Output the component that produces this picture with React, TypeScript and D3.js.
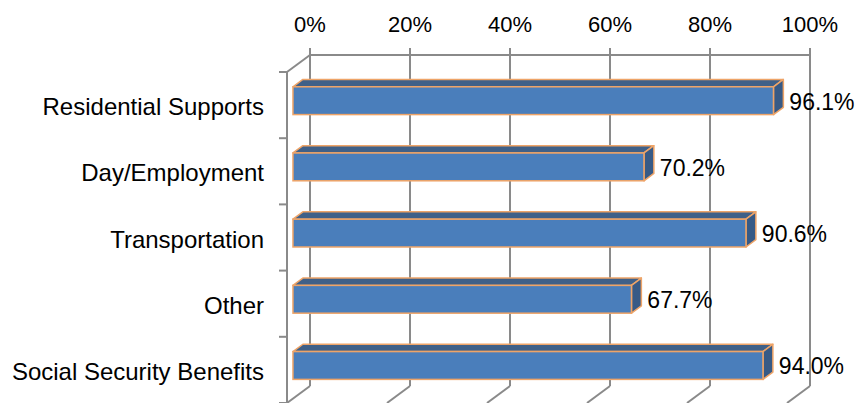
import React from "react";
import * as d3 from "d3";

const categories = [
  "Residential Supports",
  "Day/Employment",
  "Transportation",
  "Other",
  "Social Security Benefits",
];
const values = [0.961, 0.702, 0.906, 0.677, 0.94];
const ticks = [0, 0.2, 0.4, 0.6, 0.8, 1.0];

const W = 860;
const H = 403;
const FONT = "'Liberation Sans', Arial, sans-serif";

export default function App() {
  // front plane
  const x = d3.scaleLinear().domain([0, 1]).range([287, 787]);
  const y = d3.scaleBand<string>().domain(categories).range([72, 403]).padding(0);
  const depth = { dx: 23, dy: -17 };
  const barFront = 0.26;
  const barBack = 0.69;
  const barFrac = 0.42;
  const grid = "#8a8a8a";
  const front = "#4a7ebb";
  const top = "#3f6088";
  const side = "#375a86";
  const edge = "#eea468";

  const y0 = y.range()[0];
  const y1 = y.range()[1];
  const bw = y.bandwidth();

  return (
    <svg width={W} height={H} style={{ position: "absolute", left: 0, top: 0 }}>
      <rect x={0} y={0} width={W} height={H} fill="#fff" />
      {/* back wall gridlines */}
      {ticks.map((t) => (
        <line
          key={"g" + t}
          x1={x(t) + depth.dx}
          x2={x(t) + depth.dx}
          y1={y0 + depth.dy}
          y2={y1 + depth.dy}
          stroke={grid}
          strokeWidth={2}
        />
      ))}
      {/* floor diagonals */}
      {ticks.map((t) => (
        <line
          key={"f" + t}
          x1={x(t) + depth.dx}
          x2={x(t)}
          y1={y1 + depth.dy}
          y2={y1}
          stroke={grid}
          strokeWidth={2}
        />
      ))}
      {/* top axis (back) */}
      <line
        x1={x(0) + depth.dx}
        x2={x(1) + depth.dx}
        y1={y0 + depth.dy}
        y2={y0 + depth.dy}
        stroke={grid}
        strokeWidth={2}
      />
      {ticks.map((t) => (
        <line
          key={"tt" + t}
          x1={x(t) + depth.dx}
          x2={x(t) + depth.dx}
          y1={y0 + depth.dy}
          y2={y0 + depth.dy - 7}
          stroke={grid}
          strokeWidth={2}
        />
      ))}
      {ticks.map((t) => (
        <text
          key={"tl" + t}
          x={x(t) + depth.dx}
          y={32}
          textAnchor="middle"
          fontFamily={FONT}
          fontSize={22}
          fill="#000"
        >
          {d3.format(".0%")(t)}
        </text>
      ))}
      {/* left wall top diagonal */}
      <line x1={x(0)} y1={y0} x2={x(0) + depth.dx} y2={y0 + depth.dy} stroke={grid} strokeWidth={2} />
      {/* left axis */}
      <line x1={x(0)} y1={y0} x2={x(0)} y2={y1} stroke={grid} strokeWidth={2} />
      {categories.map((c) => (
        <line
          key={"lt" + c}
          x1={x(0) - 8}
          x2={x(0)}
          y1={y(c)!}
          y2={y(c)!}
          stroke={grid}
          strokeWidth={2}
        />
      ))}
      <line x1={x(0) - 8} x2={x(0)} y1={y1} y2={y1} stroke={grid} strokeWidth={2} />
      {/* category labels */}
      {categories.map((c) => (
        <text
          key={"cl" + c}
          x={264}
          y={y(c)! + bw / 2 + 10}
          textAnchor="end"
          fontFamily={FONT}
          fontSize={24}
          fill="#000"
        >
          {c}
        </text>
      ))}
      {/* bars */}
      {categories.map((c, i) => {
        const v = values[i];
        const fdx = depth.dx * barFront;
        const fdy = depth.dy * barFront;
        const bdx = depth.dx * barBack;
        const bdy = depth.dy * barBack;
        const h = bw * barFrac;
        const cy = y(c)! + bw / 2;
        const xl = x(0) + fdx;
        const xr = x(v) + fdx;
        const yt = cy - h / 2 + fdy;
        const yb = cy + h / 2 + fdy;
        const ddx = bdx - fdx;
        const ddy = bdy - fdy;
        const topPts = [
          [xl, yt],
          [xl + ddx, yt + ddy],
          [xr + ddx, yt + ddy],
          [xr, yt],
        ];
        const sidePts = [
          [xr, yt],
          [xr + ddx, yt + ddy],
          [xr + ddx, yb + ddy],
          [xr, yb],
        ];
        return (
          <g key={"b" + c}>
            <polygon
              points={topPts.map((p) => p.join(",")).join(" ")}
              fill={top}
              stroke={edge}
              strokeWidth={1.5}
              strokeLinejoin="round"
            />
            <polygon
              points={sidePts.map((p) => p.join(",")).join(" ")}
              fill={side}
              stroke={edge}
              strokeWidth={1.5}
              strokeLinejoin="round"
            />
            <rect
              x={xl}
              y={yt}
              width={xr - xl}
              height={yb - yt}
              fill={front}
              stroke={edge}
              strokeWidth={1.5}
            />
            <text
              x={xr + ddx + 6}
              y={(yt + yb) / 2 + 9}
              fontFamily={FONT}
              fontSize={23}
              fill="#000"
            >
              {d3.format(".1%")(v)}
            </text>
          </g>
        );
      })}
    </svg>
  );
}
